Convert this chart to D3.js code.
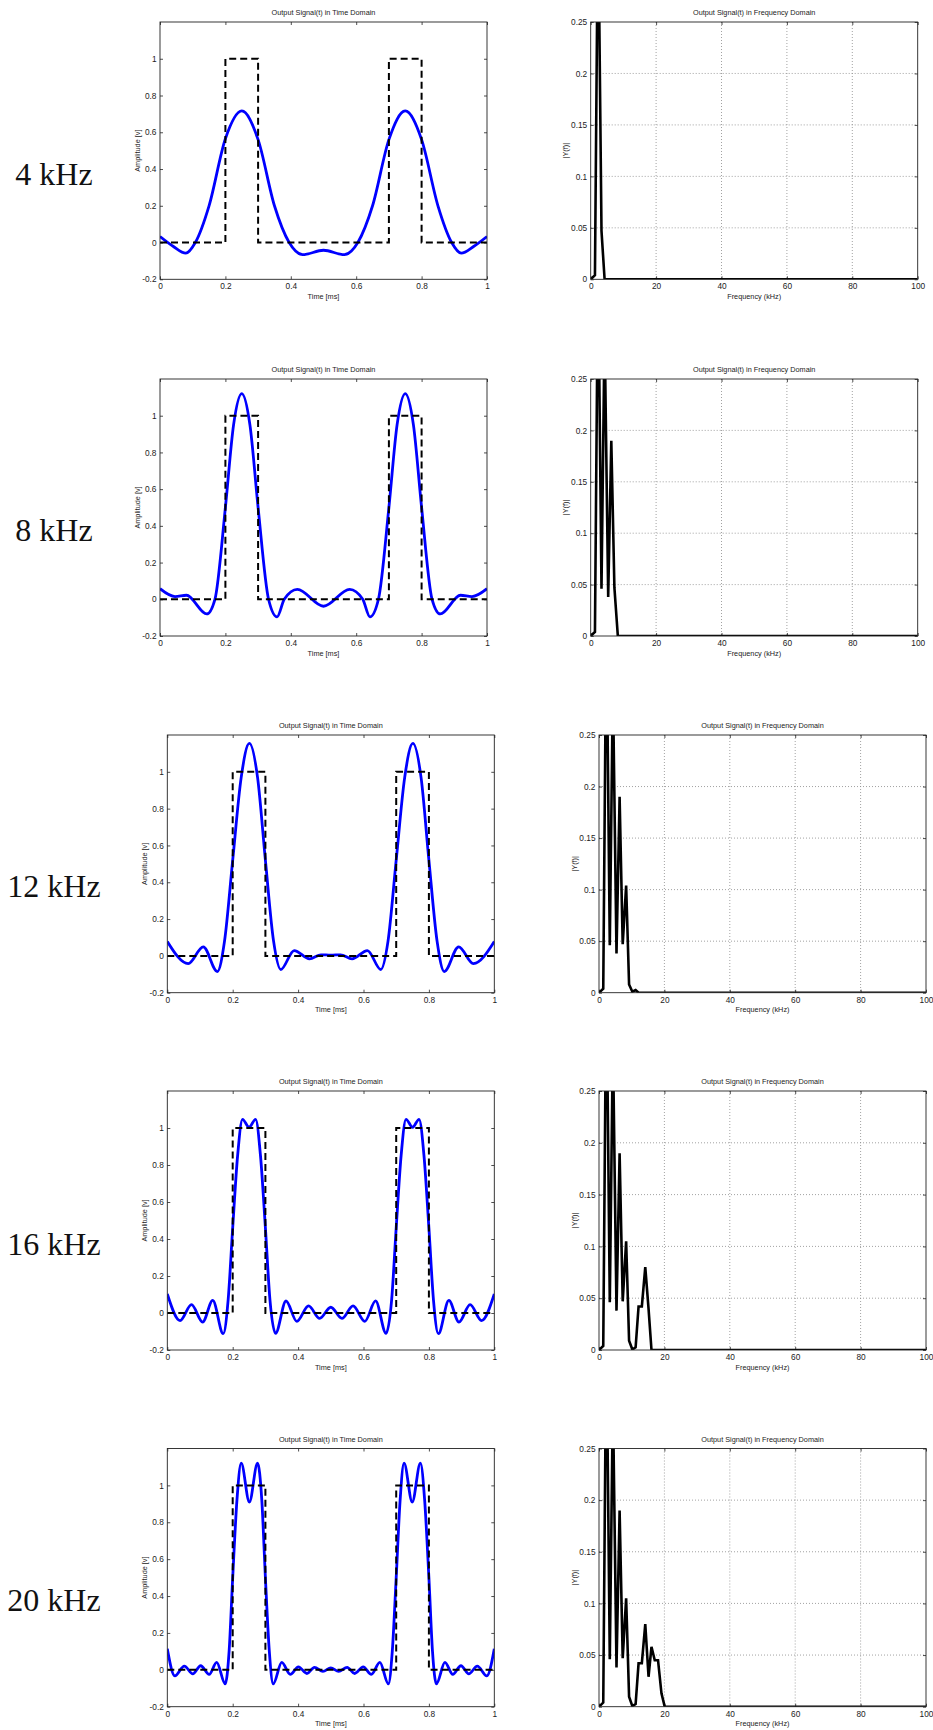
<!DOCTYPE html>
<html><head><meta charset="utf-8">
<script src="https://cdn.jsdelivr.net/npm/d3@7"></script>
<style>
body{margin:0;background:#fff;}
svg{display:block;}
text{font-family:"Liberation Sans",Arial,sans-serif;}
text.side{font-family:"Liberation Serif","DejaVu Serif",serif;}
</style></head><body>
<svg id="c" width="933" height="1730"></svg>
<script>
// ---------- data ----------
const rowLabels = ["4 kHz", "8 kHz", "12 kHz", "16 kHz", "20 kHz"];
const timeTitle = "Output Signal(t) in Time Domain";
const freqTitle = "Output Signal(t) in Frequency Domain";
const timeXLabel = "Time [ms]";
const timeYLabel = "Amplitude [v]";
const freqXLabel = "Frequency (kHz)";
const freqYLabel = "|Y(f)|";

const timeTicks = [0, 0.2, 0.4, 0.6, 0.8, 1];
const ampTicks = [-0.2, 0, 0.2, 0.4, 0.6, 0.8, 1];
const freqTicks = [0, 20, 40, 60, 80, 100];
const magTicks = [0, 0.05, 0.1, 0.15, 0.2, 0.25];

// input pulse train (dashed)
const pulseT = [0, 0.2, 0.2, 0.3, 0.3, 0.7, 0.7, 0.8, 0.8, 1];
const pulseV = [0, 0, 1, 1, 0, 0, 1, 1, 0, 0];

// filtered output, [t (ms), amplitude]
const time4k = [[0,0.033],[0.04,-0.02],[0.079,-0.058],[0.108,0],[0.15,0.2],[0.2,0.565],[0.25,0.716],[0.3,0.56],[0.35,0.2],[0.395,0],[0.436,-0.066],[0.5,-0.042],[0.564,-0.066],[0.605,0],[0.65,0.2],[0.7,0.56],[0.75,0.716],[0.8,0.56],[0.85,0.2],[0.892,0],[0.921,-0.058],[0.96,-0.02],[1,0.033]];
const time8k = [[0,0.058],[0.046,0.015],[0.081,0.022],[0.143,-0.08],[0.168,0],[0.2,0.5],[0.225,0.95],[0.25,1.12],[0.275,0.95],[0.3,0.5],[0.332,0],[0.358,-0.096],[0.38,0],[0.42,0.054],[0.5,-0.038],[0.58,0.054],[0.62,0],[0.642,-0.096],[0.668,0],[0.7,0.5],[0.725,0.95],[0.75,1.12],[0.775,0.95],[0.8,0.5],[0.832,0],[0.857,-0.08],[0.919,0.022],[0.954,0.015],[1,0.058]];
const time12k = [[0,0.078],[0.064,-0.042],[0.11,0.049],[0.153,-0.085],[0.175,0.08],[0.2,0.52],[0.226,0.97],[0.251,1.154],[0.276,0.97],[0.3,0.52],[0.325,0.08],[0.347,-0.074],[0.388,0.029],[0.435,-0.016],[0.47,0.006],[0.5,0.004],[0.53,0.006],[0.565,-0.016],[0.612,0.029],[0.653,-0.074],[0.675,0.08],[0.7,0.52],[0.726,0.97],[0.751,1.154],[0.776,0.97],[0.8,0.52],[0.825,0.08],[0.847,-0.085],[0.891,0.049],[0.936,-0.042],[1,0.078]];
const time16k = [[0,0.103],[0.039,-0.041],[0.074,0.045],[0.108,-0.049],[0.139,0.068],[0.171,-0.112],[0.186,0.07],[0.2,0.46],[0.215,0.85],[0.23,1.047],[0.25,1.004],[0.27,1.047],[0.285,0.85],[0.3,0.46],[0.314,0.07],[0.331,-0.11],[0.363,0.065],[0.396,-0.045],[0.432,0.038],[0.466,-0.029],[0.5,0.031],[0.534,-0.029],[0.568,0.038],[0.604,-0.045],[0.637,0.065],[0.669,-0.11],[0.686,0.07],[0.7,0.46],[0.715,0.85],[0.73,1.047],[0.75,1.004],[0.77,1.047],[0.785,0.85],[0.8,0.46],[0.814,0.07],[0.829,-0.112],[0.861,0.068],[0.892,-0.049],[0.926,0.045],[0.961,-0.041],[1,0.103]];
const time20k = [[0,0.114],[0.023,-0.033],[0.052,0.02],[0.078,-0.022],[0.102,0.022],[0.128,-0.025],[0.151,0.04],[0.177,-0.076],[0.189,0.1],[0.2,0.5],[0.213,0.92],[0.226,1.121],[0.251,0.91],[0.276,1.121],[0.289,0.92],[0.3,0.5],[0.312,0.1],[0.324,-0.076],[0.35,0.04],[0.376,-0.025],[0.401,0.016],[0.427,-0.02],[0.45,0.013],[0.476,-0.009],[0.5,0.011],[0.524,-0.009],[0.55,0.013],[0.573,-0.02],[0.599,0.016],[0.624,-0.025],[0.65,0.04],[0.676,-0.076],[0.688,0.1],[0.7,0.5],[0.712,0.92],[0.724,1.121],[0.749,0.91],[0.774,1.121],[0.787,0.92],[0.8,0.5],[0.811,0.1],[0.823,-0.076],[0.849,0.04],[0.873,-0.025],[0.898,0.022],[0.922,-0.022],[0.948,0.02],[0.977,-0.033],[1,0.114]];

// spectrum
const freqBins = [0, 1.3, 2.25, 3.3, 4.25, 5.35, 6.3, 7.25, 8.3, 9.2, 10.2, 11.2, 12.1, 13.1, 14.15, 15.15, 16.05, 17.05, 18.05, 19.1, 20.1, 100];
const mag4k  = [0, 0.004, 0.37, 0.047, 0, 0, 0, 0, 0, 0, 0, 0, 0, 0, 0, 0, 0, 0, 0, 0, 0, 0];
const mag8k  = [0, 0.004, 0.37, 0.046, 0.30, 0.038, 0.19, 0.047, 0, 0, 0, 0, 0, 0, 0, 0, 0, 0, 0, 0, 0, 0];
const mag12k = [0, 0.004, 0.37, 0.046, 0.30, 0.038, 0.19, 0.047, 0.104, 0.008, 0.001, 0.0026, 0, 0, 0, 0, 0, 0, 0, 0, 0, 0];
const mag16k = [0, 0.004, 0.37, 0.046, 0.30, 0.038, 0.19, 0.047, 0.105, 0.009, 0.0005, 0.0026, 0.042, 0.042, 0.08, 0.04, 0, 0, 0, 0, 0, 0];
const mag20k = [0, 0.004, 0.37, 0.046, 0.30, 0.038, 0.19, 0.047, 0.105, 0.0097, 0.0006, 0.0026, 0.042, 0.042, 0.08, 0.029, 0.058, 0.045, 0.045, 0.013, 0, 0];

const timeSeries = [time4k, time8k, time12k, time16k, time20k];
const magSeries = [mag4k, mag8k, mag12k, mag16k, mag20k];

// ---------- layout ----------
const PW = 327;
const rows = [
  {top: 22,     bottom: 279.3,  tl: 160,   fl: 590.7, ly: 174},
  {top: 379,    bottom: 636,    tl: 160,   fl: 590.7, ly: 530},
  {top: 735,    bottom: 992.7,  tl: 167.3, fl: 599,   ly: 885.6},
  {top: 1091,   bottom: 1350,   tl: 167.3, fl: 599,   ly: 1244},
  {top: 1448.5, bottom: 1706.7, tl: 167.3, fl: 599,   ly: 1600}
];

const svg = d3.select("#c");
const fmt = d => String(+(+d).toFixed(2));
const TICK_FS = 8.3, LAB_FS = 7.3;

function frame(g, x, y, xt, yt, w, h, grid) {
  if (grid) {
    g.append("g").selectAll("line").data(xt.slice(1, -1)).join("line")
      .attr("x1", d => x(d)).attr("x2", d => x(d)).attr("y1", 0).attr("y2", h)
      .attr("stroke", "#8a8a8a").attr("stroke-width", 0.8).attr("stroke-dasharray", "1,2");
    g.append("g").selectAll("line").data(yt.slice(1, -1)).join("line")
      .attr("y1", d => y(d)).attr("y2", d => y(d)).attr("x1", 0).attr("x2", w)
      .attr("stroke", "#8a8a8a").attr("stroke-width", 0.8).attr("stroke-dasharray", "1,2");
  }
  const ax = [
    g.append("g").attr("transform", `translate(0,${h})`).call(d3.axisBottom(x).tickValues(xt).tickFormat(fmt).tickSize(-3).tickPadding(4)),
    g.append("g").call(d3.axisLeft(y).tickValues(yt).tickFormat(fmt).tickSize(-3).tickPadding(3.5)),
    g.append("g").call(d3.axisTop(x).tickValues(xt).tickFormat("").tickSize(-3)),
    g.append("g").attr("transform", `translate(${w},0)`).call(d3.axisRight(y).tickValues(yt).tickFormat("").tickSize(-3))
  ];
  ax.forEach(a => {
    a.select(".domain").remove();
    a.selectAll("line").attr("stroke", "#222").attr("stroke-width", 0.8);
    a.selectAll("text").attr("font-size", TICK_FS).attr("fill", "#222");
  });
}

rows.forEach((r, i) => {
  const h = r.bottom - r.top;
  // side label
  svg.append("text").attr("class", "side").attr("x", 54).attr("y", r.ly).attr("text-anchor", "middle")
    .attr("dominant-baseline", "central")
    .attr("font-size", 32).attr("fill", "#111").text(rowLabels[i]);

  // ---- time domain ----
  {
    const g = svg.append("g").attr("transform", `translate(${r.tl},${r.top})`);
    const x = d3.scaleLinear().domain([0, 1]).range([0, PW]);
    const y = d3.scaleLinear().domain([-0.2, 1.2]).range([h, 0]);
    frame(g, x, y, timeTicks, ampTicks, PW, h, false);
    const cid = "ct" + i;
    g.append("clipPath").attr("id", cid).append("rect").attr("width", PW).attr("height", h);
    const line = d3.line().x(d => x(d[0])).y(d => y(d[1])).curve(d3.curveMonotoneX);
    g.append("path").attr("clip-path", `url(#${cid})`).attr("d", line(timeSeries[i]))
      .attr("fill", "none").attr("stroke", "#0000ff").attr("stroke-width", 2.8)
      .attr("stroke-linejoin", "round");
    const pl = d3.line().x(d => x(d[0])).y(d => y(d[1]));
    g.append("path").attr("d", pl(pulseT.map((t, k) => [t, pulseV[k]])))
      .attr("fill", "none").attr("stroke", "#000").attr("stroke-width", 2)
      .attr("stroke-dasharray", "7,4");
    g.append("rect").attr("width", PW).attr("height", h).attr("fill", "none")
      .attr("stroke", "#222").attr("stroke-width", 0.9);
    g.append("text").attr("x", PW / 2).attr("y", -7).attr("text-anchor", "middle")
      .attr("font-size", LAB_FS).attr("fill", "#222").text(timeTitle);
    g.append("text").attr("x", PW / 2).attr("y", h + 19.5).attr("text-anchor", "middle")
      .attr("font-size", LAB_FS).attr("fill", "#222").text(timeXLabel);
    g.append("text").attr("transform", `translate(-23,${h / 2}) rotate(-90)`)
      .attr("text-anchor", "middle").attr("dominant-baseline", "central")
      .attr("font-size", LAB_FS).attr("fill", "#222").text(timeYLabel);
  }

  // ---- frequency domain ----
  {
    const g = svg.append("g").attr("transform", `translate(${r.fl},${r.top})`);
    const x = d3.scaleLinear().domain([0, 100]).range([0, PW]);
    const y = d3.scaleLinear().domain([0, 0.25]).range([h, 0]);
    frame(g, x, y, freqTicks, magTicks, PW, h, true);
    const cid = "cf" + i;
    g.append("clipPath").attr("id", cid).append("rect").attr("width", PW).attr("height", h);
    const line = d3.line().x(d => x(d[0])).y(d => y(d[1]));
    g.append("path").attr("clip-path", `url(#${cid})`)
      .attr("d", line(freqBins.map((f, k) => [f, magSeries[i][k]])))
      .attr("fill", "none").attr("stroke", "#000").attr("stroke-width", 2.6)
      .attr("stroke-linejoin", "miter");
    g.append("rect").attr("width", PW).attr("height", h).attr("fill", "none")
      .attr("stroke", "#222").attr("stroke-width", 0.9);
    g.append("text").attr("x", PW / 2).attr("y", -7).attr("text-anchor", "middle")
      .attr("font-size", LAB_FS).attr("fill", "#222").text(freqTitle);
    g.append("text").attr("x", PW / 2).attr("y", h + 19.5).attr("text-anchor", "middle")
      .attr("font-size", LAB_FS).attr("fill", "#222").text(freqXLabel);
    g.append("text").attr("transform", `translate(-25,${h / 2}) rotate(-90)`)
      .attr("text-anchor", "middle").attr("dominant-baseline", "central")
      .attr("font-size", LAB_FS).attr("fill", "#222").text(freqYLabel);
  }
});
</script>
</body></html>
